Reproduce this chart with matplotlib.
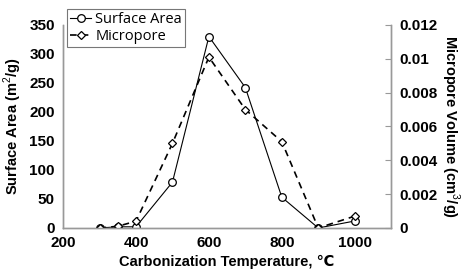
import matplotlib.pyplot as plt

# data
temperature = [300, 350, 400, 500, 600, 700, 800, 900, 1000]
surface_area = [0, 2, 2, 79, 330, 242, 53, 0, 12]
micropore = [0, 0.0001, 0.0004, 0.005, 0.0101, 0.0070, 0.0051, 0, 0.0007]

plt.rcParams['mathtext.fontset'] = 'custom'
plt.rcParams['mathtext.rm'] = 'Liberation Sans'
plt.rcParams['mathtext.bf'] = 'Liberation Sans:bold'

fig = plt.figure(figsize=(4.64, 2.77), dpi=100)
ax = fig.add_axes([0.136, 0.177, 0.707, 0.733])
ax2 = ax.twinx()

l1, = ax.plot(temperature, surface_area, color='black', linewidth=0.8,
              marker='o', markersize=5.5, markerfacecolor='white',
              markeredgecolor='black', markeredgewidth=0.9, label='Surface Area')
l2, = ax2.plot(temperature, micropore, color='black', linewidth=1.2,
               linestyle=(0, (4, 3)), marker='D', markersize=4.5,
               markerfacecolor='white', markeredgecolor='black',
               markeredgewidth=0.9, label='Micropore')

ax.set_xlim(200, 1100)
ax.set_ylim(0, 350)
ax2.set_ylim(0, 0.012)
ax.set_xticks([200, 400, 600, 800, 1000])
ax.set_yticks([0, 50, 100, 150, 200, 250, 300, 350])
ax2.set_yticks([0, 0.002, 0.004, 0.006, 0.008, 0.01, 0.012])
ax2.set_yticklabels(['0', '0.002', '0.004', '0.006', '0.008', '0.01', '0.012'])

for a in (ax, ax2):
    a.spines['top'].set_visible(False)
    for s in ('left', 'right', 'bottom'):
        a.spines[s].set_color('#999999')
        a.spines[s].set_linewidth(1.0)
    for lab in a.get_xticklabels() + a.get_yticklabels():
        lab.set_fontweight('bold')
        lab.set_fontfamily('Liberation Sans')
        lab.set_fontsize(11)

ax.tick_params(axis='both', length=0, pad=6)
ax2.tick_params(axis='y', length=4, direction='in', color='#999999', pad=6)

ax.set_ylabel('Surface Area (m$^2$/g)', fontweight='bold',
              fontfamily='Liberation Sans', fontsize=10.5, labelpad=4)
ax2.set_ylabel('Micropore Volume (cm$^3$/g)', fontweight='bold',
               fontfamily='Liberation Sans', fontsize=10.5, rotation=270,
               labelpad=17)
ax.set_xlabel('Carbonization Temperature, \u2103', fontweight='bold',
              family=['Liberation Sans', 'DejaVu Sans'], fontsize=10.5,
              labelpad=3)

leg = ax.legend(handles=[l1, l2], loc='upper left',
                bbox_to_anchor=(0.0, 1.1), frameon=True, fancybox=False,
                prop={'family': 'Open Sans', 'size': 10.5},
                handlelength=1.4, handletextpad=0.3, borderpad=0.2,
                labelspacing=0.15, borderaxespad=0.3)
leg.get_frame().set_edgecolor('#555555')
leg.get_frame().set_linewidth(0.8)

fig.savefig('out.png', dpi=100)
